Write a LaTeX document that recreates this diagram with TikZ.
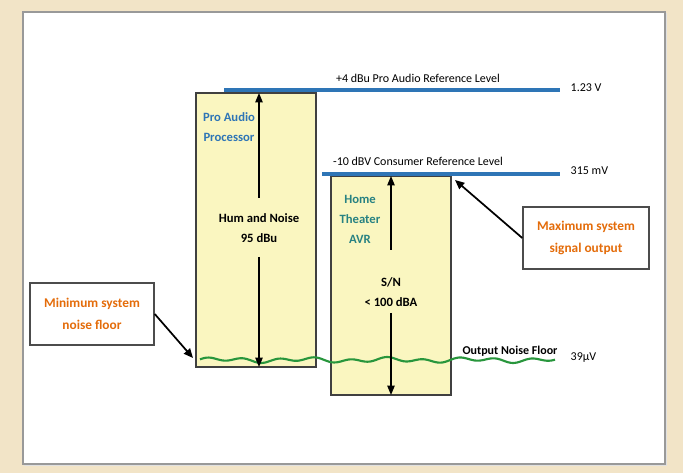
\documentclass[tikz,border=0pt]{standalone}
\usepackage{fontspec}
\setmainfont{Carlito}
\usetikzlibrary{arrows.meta}

\definecolor{fond}{RGB}{242,228,199}
\definecolor{boite}{RGB}{250,246,192}
\definecolor{niveau}{RGB}{46,117,182}
\definecolor{bruit}{RGB}{40,150,60}
\definecolor{orange}{RGB}{228,108,10}
\definecolor{sarcelle}{RGB}{40,130,130}

\tikzset{
  devbox/.style={draw=black!75, line width=1.2pt, fill=boite, inner sep=0pt},
  notebox/.style={draw=black!70, line width=1.1pt, fill=white, align=center,
    text=orange, font=\bfseries\fontsize{10}{16.5}\selectfont, inner sep=0pt},
  levelline/.style={draw=niveau, line width=2.3pt},
  leveltext/.style={font=\fontsize{9}{10}\selectfont},
  boxtext/.style={font=\bfseries\fontsize{9.5}{15}\selectfont, align=center},
  dimarrow/.style={-{Triangle[length=7pt,width=5.5pt]}, line width=1pt},
  callout/.style={-{Triangle[length=7pt,width=6pt]}, line width=1.3pt},
}

\begin{document}
\begin{tikzpicture}[x=0.75pt,y=-0.75pt]

% Fond et cadre
\fill[fond] (0,0) rectangle (683,473);
\fill[black!12] (24,13) rectangle (667,466);
\filldraw[fill=white, draw=black!40, line width=0.8pt] (23,12) rectangle (665,464);

% Boites des appareils
\node[devbox, minimum width=90pt, minimum height=205.5pt] (pro) at (256,230) {};
\node[devbox, minimum width=90pt, minimum height=164.25pt] (avr) at (391,285.5) {};

% Niveaux de reference
\coordinate (hautG) at (224,90);
\coordinate (hautD) at (560,90);
\draw[levelline] (hautG) -- (hautD);
\node[leveltext] (refpro) at (418,78) {+4 dBu Pro Audio Reference Level};
\node[leveltext, anchor=west] (v123) at (566,88) {1.23 V};

\coordinate (basG) at (322,174);
\coordinate (basD) at (560,174);
\draw[levelline] (basG) -- (basD);
\node[leveltext] (refcons) at (418,161) {-10 dBV Consumer Reference Level};
\node[leveltext, anchor=west] (v315) at (566,171) {315 mV};

% Plancher de bruit
\draw[bruit, line width=1.6pt, line join=round]
  plot[domain=200:555, samples=160, smooth]
  (\x, {360 + 1.8*sin(10*\x) + 1.2*sin(4.3*\x+40)});
\node[font=\bfseries\fontsize{9}{10}\selectfont] (floor) at (510,351) {Output Noise Floor};
\node[leveltext, anchor=west] (v39) at (566,358) {39μV};

% Pro Audio Processor
\node[boxtext, text=niveau] (prolab) at (229,127.5) {Pro Audio\\Processor};
\node[boxtext] (hum) at (259,228.5) {Hum and Noise\\95 dBu};
\coordinate (humT) at (259,198);
\coordinate (humB) at (259,257);
\coordinate (proT) at (259,93);
\coordinate (proB) at (259,367);
\draw[dimarrow] (humT) -- (proT);
\draw[dimarrow] (humB) -- (proB);

% Home Theater AVR
\node[boxtext, text=sarcelle] (avrlab) at (360,219) {Home\\Theater\\AVR};
\node[boxtext] (sn) at (391,292.5) {S/N\\< 100 dBA};
\coordinate (snT) at (391,250);
\coordinate (snB) at (391,313);
\coordinate (avrT) at (391,176);
\coordinate (avrB) at (391,395);
\draw[dimarrow] (snT) -- (avrT);
\draw[dimarrow] (snB) -- (avrB);

% Annotations
\node[notebox, minimum width=94.5pt, minimum height=46.5pt] (maxout) at (586,238) {Maximum system\\signal output};
\node[notebox, minimum width=93pt, minimum height=46.5pt] (minfloor) at (92,314) {Minimum system\\noise floor};
\coordinate (maxpt) at (455,180);
\coordinate (minpt) at (193,358);
\draw[callout] (maxout.west) -- (maxpt);
\draw[callout] (minfloor.east) -- (minpt);

\end{tikzpicture}
\end{document}
